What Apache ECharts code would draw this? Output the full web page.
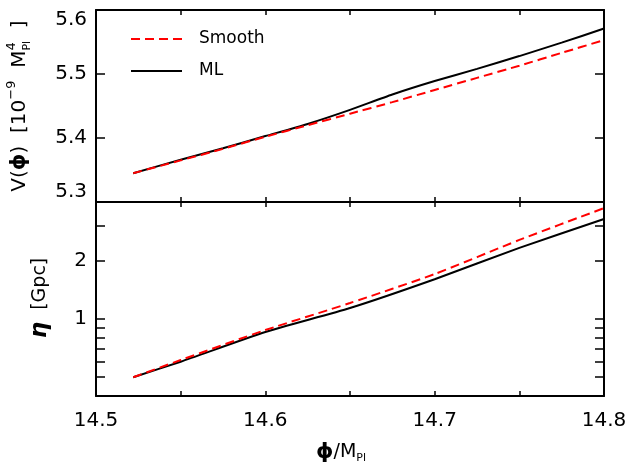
<!DOCTYPE html>
<html><head><meta charset="utf-8">
<script src="https://cdn.jsdelivr.net/npm/echarts@6/dist/echarts.min.js"></script>
<style>html,body{margin:0;padding:0;background:#fff}#c{width:631px;height:468px}</style>
</head><body><div id="c"></div><script>
const FONT = 'DejaVu Sans';
// ---- data ----
const seriesNames = ['Smooth', 'ML'];
const phiV = [14.522, 14.55, 14.575, 14.6, 14.625, 14.65, 14.675, 14.7, 14.725, 14.75, 14.775, 14.8];
const vSmooth = [5.345, 5.365, 5.383, 5.402, 5.420, 5.438, 5.456, 5.475, 5.494, 5.513, 5.533, 5.553];
const vML     = [5.345, 5.366, 5.384, 5.403, 5.422, 5.444, 5.468, 5.489, 5.508, 5.528, 5.549, 5.571];
const phiEta = [14.522, 14.55, 14.6, 14.65, 14.7, 14.75, 14.8];
const etaSmooth = [0.50, 0.613, 0.875, 1.206, 1.70, 2.55, 3.72];
const etaML     = [0.50, 0.601, 0.855, 1.137, 1.60, 2.32, 3.27];
const xTickLabels = ['14.5', '14.6', '14.7', '14.8'];
const vTickLabels = ['5.3', '5.4', '5.5', '5.6'];
const etaTickValues = [0.5, 0.6, 0.7, 0.8, 0.9, 1, 2, 3];
const etaTickLabels = [1, 2];

const pairs = (xs, ys) => xs.map((x, i) => [x, ys[i]]);
const black = '#000';
const red = '#ff0000';

const cv = document.createElement('canvas').getContext('2d');
function tw(t, size, weight, style) {
  cv.font = (style || 'normal') + ' ' + (weight || 'normal') + ' ' + size + 'px "' + FONT + '"';
  return cv.measureText(t).width;
}
function buildText(segs) {
  let cx = 0; const kids = [];
  segs.forEach(s => {
    const list = s.stack ? s.stack : [s];
    let adv = 0;
    list.forEach(p => {
      kids.push({ type: 'text', x: cx, y: p.dy || 0, style: {
        text: p.t, fontSize: p.size, fontFamily: FONT, fontWeight: p.weight || 'normal',
        fontStyle: p.style || 'normal', fill: '#000', textAlign: 'left', textVerticalAlign: 'middle' } });
      adv = Math.max(adv, tw(p.t, p.size, p.weight, p.style));
    });
    cx += adv;
  });
  return { kids, width: cx };
}
const vTitle = buildText([
  { t: 'V(', size: 20 }, { t: 'ϕ', size: 21, weight: 'bold' }, { t: ')  [10', size: 20 },
  { t: '−9', size: 13, dy: -8 }, { t: '  M', size: 20 },
  { stack: [{ t: '4', size: 13, dy: -8 }, { t: 'Pl', size: 11, dy: 7 }] }, { t: '  ]', size: 20 }
]);
const etaTitle = buildText([
  { t: 'η', size: 23, weight: 'bold', style: 'italic' }, { t: '  [Gpc]', size: 19 }
]);
const xTitle = buildText([
  { t: 'ϕ', size: 22, weight: 'bold' }, { t: '/M', size: 19 }, { t: 'Pl', size: 11, dy: 6 }
]);

const L = 96, R = 27;
const xCommon = { type: 'value', min: 14.5, max: 14.8, interval: 0.05 };
const axLine = { show: true, lineStyle: { color: black, width: 2 } };
function xAxis(grid, pos, labels) {
  return Object.assign({}, xCommon, {
    gridIndex: grid, position: pos, axisLine: axLine, splitLine: { show: false },
    axisTick: { inside: true, length: 5, lineStyle: { color: black, width: 1.5 } },
    axisLabel: labels ? { show: true, margin: 15, fontSize: 20, fontFamily: FONT, color: black,
      formatter: v => xTickLabels.find(l => Math.abs(parseFloat(l) - v) < 1e-6) || '' } : { show: false }
  });
}
function vAxis(pos, labels) {
  return { type: 'value', gridIndex: 0, position: pos, min: 5.3, max: 5.6, interval: 0.1,
    axisLine: axLine, splitLine: { show: false },
    axisTick: { inside: true, length: 9, lineStyle: { color: black, width: 1.5 } },
    axisLabel: labels ? { show: true, margin: 9, fontSize: 20, fontFamily: FONT, color: black,
      verticalAlignMinLabel: 'bottom', verticalAlignMaxLabel: 'top',
      formatter: v => vTickLabels.find(l => Math.abs(parseFloat(l) - v) < 1e-6) || '' } : { show: false } };
}
function etaAxis(pos, labels) {
  return { type: 'log', logBase: 10, gridIndex: 1, position: pos, min: 0.4, max: 4,
    axisLine: axLine, splitLine: { show: false }, minorTick: { show: false },
    axisTick: { inside: true, length: 9, customValues: etaTickValues, lineStyle: { color: black, width: 1.5 } },
    axisLabel: labels ? { show: true, margin: 9, fontSize: 20, fontFamily: FONT, color: black,
      customValues: etaTickLabels, formatter: v => String(v) } : { show: false } };
}

const chart = echarts.init(document.getElementById('c'), null, { renderer: 'canvas' });
chart.setOption({
  animation: false,
  backgroundColor: '#fff',
  grid: [
    { left: L, right: R, top: 10, height: 192 },
    { left: L, right: R, top: 202, height: 194 }
  ],
  xAxis: [xAxis(0, 'bottom', false), xAxis(0, 'top', false), xAxis(1, 'bottom', true), xAxis(1, 'top', false)],
  yAxis: [vAxis('left', true), vAxis('right', false), etaAxis('left', true), etaAxis('right', false)],
  legend: {
    left: 130, top: 29, padding: 0, orient: 'vertical', itemWidth: 51, itemHeight: 14, itemGap: 12,
    data: seriesNames, itemStyle: { opacity: 0 },
    textStyle: { fontSize: 17, fontFamily: FONT, color: black, lineHeight: 20, padding: [0, 0, 0, 12] }
  },
  series: [
    { name: seriesNames[1], type: 'line', xAxisIndex: 0, yAxisIndex: 0, data: pairs(phiV, vML), symbol: 'none', smooth: 0.2, lineStyle: { color: black, width: 2 }, itemStyle: { color: black } },
    { name: seriesNames[0], type: 'line', xAxisIndex: 0, yAxisIndex: 0, data: pairs(phiV, vSmooth), symbol: 'none', smooth: 0.2, lineStyle: { color: red, width: 2, type: [9, 5] }, itemStyle: { color: red } },
    { name: seriesNames[1], type: 'line', xAxisIndex: 2, yAxisIndex: 2, data: pairs(phiEta, etaML), symbol: 'none', smooth: 0.2, lineStyle: { color: black, width: 2 }, itemStyle: { color: black } },
    { name: seriesNames[0], type: 'line', xAxisIndex: 2, yAxisIndex: 2, data: pairs(phiEta, etaSmooth), symbol: 'none', smooth: 0.2, lineStyle: { color: red, width: 2, type: [9, 5] }, itemStyle: { color: red } }
  ],
  graphic: [
    { type: 'group', x: 20, y: 106 + vTitle.width / 2, rotation: Math.PI / 2, children: vTitle.kids },
    { type: 'group', x: 40, y: 298 + etaTitle.width / 2, rotation: Math.PI / 2, children: etaTitle.kids },
    { type: 'group', x: 341 - xTitle.width / 2, y: 452, children: xTitle.kids }
  ]
});
</script></body></html>
